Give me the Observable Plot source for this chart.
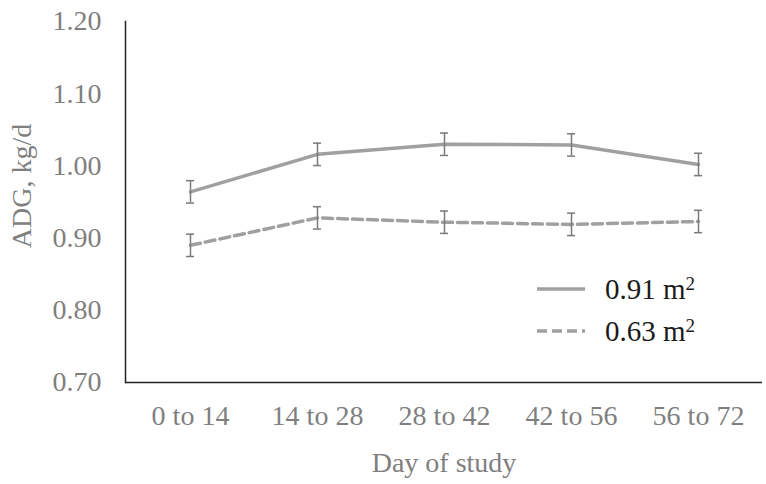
<!DOCTYPE html>
<html>
<head>
<meta charset="utf-8">
<script src="https://cdn.jsdelivr.net/npm/d3@7"></script>
<script src="https://cdn.jsdelivr.net/npm/@observablehq/plot@0.6"></script>
<style>
  html, body { margin: 0; padding: 0; background: #fff; }
  #wrap { position: relative; width: 766px; height: 484px; font-family: "Liberation Serif", serif; }
  #legend { position: absolute; left: 537px; top: 268px; font-size: 29px; color: #1a1a1a; }
  #legend .row { display: flex; align-items: center; height: 42px; }
  #legend svg { width: 48px; height: 10px; margin-right: 20px; }
  #legend sup { font-size: 19px; vertical-align: 0.5em; line-height: 0; }
</style>
</head>
<body>
<div id="wrap"></div>
<script>
const periods = ["0 to 14", "14 to 28", "28 to 42", "42 to 56", "56 to 72"];
const series = ["0.91 m²", "0.63 m²"];
const adgLarge = [0.964, 1.016, 1.030, 1.029, 1.002];
const adgSmall = [0.890, 0.928, 0.922, 0.919, 0.923];
const seLarge = [0.0155, 0.0155, 0.0155, 0.0155, 0.0155];
const seSmall = [0.0155, 0.0155, 0.0155, 0.0155, 0.0155];
const yTicks = [0.70, 0.80, 0.90, 1.00, 1.10, 1.20];

const rows = [];
periods.forEach((p, i) => {
  rows.push({period: p, series: series[0], adg: adgLarge[i], se: seLarge[i]});
  rows.push({period: p, series: series[1], adg: adgSmall[i], se: seSmall[i]});
});
const large = rows.filter(d => d.series === series[0]);
const small = rows.filter(d => d.series === series[1]);

const lineColor = "#a0a0a0";
const errColor = "#7a7a7a";
const textColor = "#7f7f7f";

const chart = Plot.plot({
  width: 766,
  height: 484,
  marginLeft: 125,
  marginRight: 4,
  marginTop: 21,
  marginBottom: 102,
  style: {fontFamily: "Liberation Serif, serif", fontSize: "28px", color: textColor, background: "#fff"},
  x: {type: "point", domain: periods, padding: 0.5},
  y: {domain: [0.70, 1.20]},
  marks: [
    Plot.axisY({ticks: yTicks, tickFormat: d3.format(".2f"), tickSize: 0, tickPadding: 24, label: null, fontSize: 28, fill: textColor}),
    Plot.axisX({tickSize: 0, tickPadding: 23, label: null, fontSize: 28, fill: textColor}),
    Plot.text(["ADG, kg/d"], {frameAnchor: "left", rotate: -90, dx: -103, dy: -16, fontSize: 28, fill: textColor, textAnchor: "middle", lineAnchor: "middle"}),
    Plot.text(["Day of study"], {frameAnchor: "bottom", dy: 81, fontSize: 28, fill: textColor, textAnchor: "middle", lineAnchor: "middle"}),
    Plot.line(large, {x: "period", y: "adg", stroke: lineColor, strokeWidth: 3.5}),
    Plot.line(small, {x: "period", y: "adg", stroke: lineColor, strokeWidth: 3.5, strokeDasharray: "10,5"}),
    Plot.ruleX(rows, {x: "period", y1: d => d.adg - d.se, y2: d => d.adg + d.se, stroke: errColor, strokeWidth: 1.5}),
    Plot.ruleY(rows, {x1: "period", x2: "period", y: d => d.adg - d.se, insetLeft: -4, insetRight: -4, stroke: errColor, strokeWidth: 1.5}),
    Plot.ruleY(rows, {x1: "period", x2: "period", y: d => d.adg + d.se, insetLeft: -4, insetRight: -4, stroke: errColor, strokeWidth: 1.5}),
    Plot.frame({anchor: "left", stroke: "#222", strokeWidth: 1.5}),
    Plot.ruleY([0.70], {stroke: "#222", strokeWidth: 1.5})
  ]
});

const wrap = document.getElementById("wrap");
wrap.appendChild(chart);

const legend = document.createElement("div");
legend.id = "legend";
legend.innerHTML = series.map((s, i) => {
  const [num] = s.split(" ");
  const dash = i === 1 ? 'stroke-dasharray="10,5"' : "";
  return `<div class="row"><svg viewBox="0 0 48 10"><line x1="0" y1="5" x2="48" y2="5" stroke="${lineColor}" stroke-width="3.5" ${dash}/></svg><span>${num} m<sup>2</sup></span></div>`;
}).join("");
wrap.appendChild(legend);
</script>
</body>
</html>
